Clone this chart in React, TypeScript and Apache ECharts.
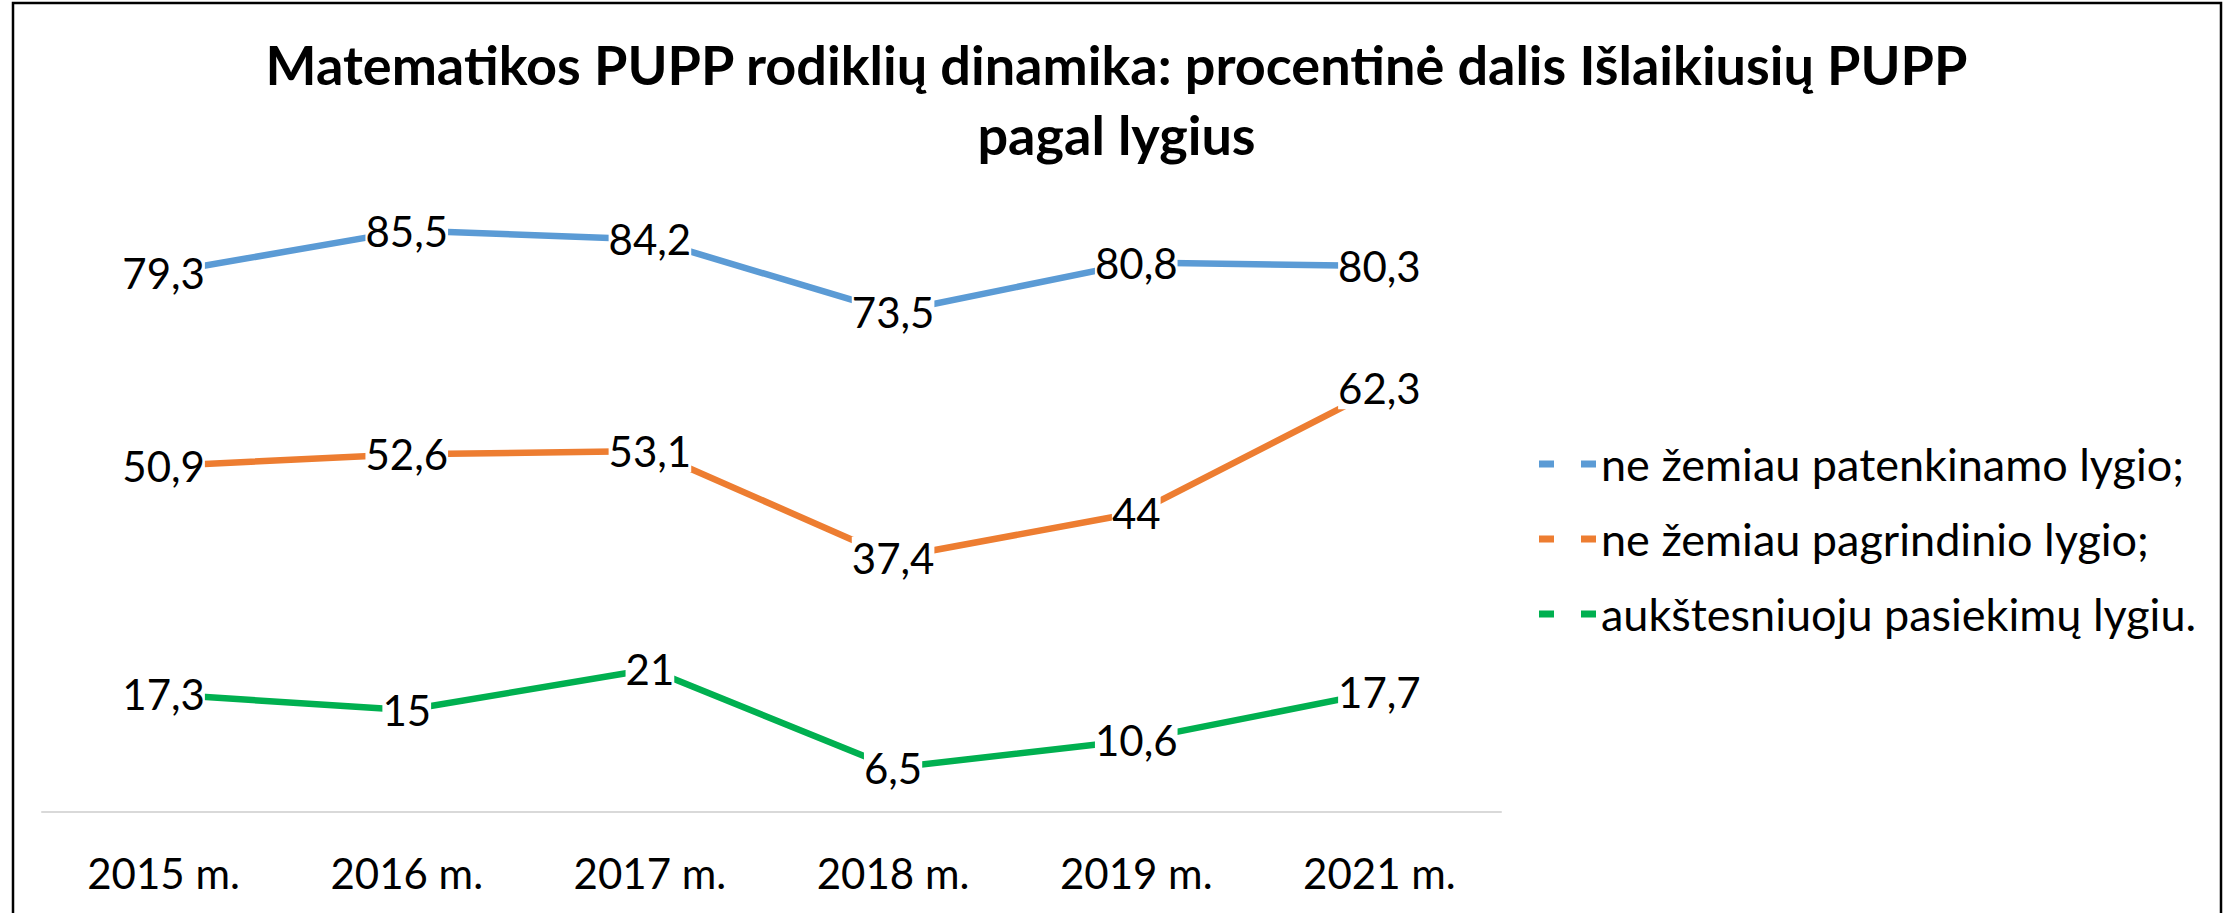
import React, { useEffect, useRef } from "react";
import * as echarts from "echarts";

const categories = ["2015 m.", "2016 m.", "2017 m.", "2018 m.", "2019 m.", "2021 m."];
const patenkinamo = [79.3, 85.5, 84.2, 73.5, 80.8, 80.3];
const pagrindinio = [50.9, 52.6, 53.1, 37.4, 44, 62.3];
const aukstesniuoju = [17.3, 15, 21, 6.5, 10.6, 17.7];
const seriesNames = [
  "ne žemiau patenkinamo lygio;",
  "ne žemiau pagrindinio lygio;",
  "aukštesniuoju pasiekimų lygiu.",
];
const colors = ["#5B9BD5", "#ED7D31", "#00B050"];
const titleText = "Matematikos PUPP rodiklių dinamika: procentinė dalis Išlaikiusių PUPP\npagal lygius";

const FONT = "Lato";

export default function App() {
  const ref = useRef<HTMLDivElement>(null);
  useEffect(() => {
    if (!ref.current) return;
    const chart = echarts.init(ref.current, undefined, { renderer: "svg" });
    const mkSeries = (name: string, data: number[], color: string) => ({
      name,
      type: "line",
      data,
      symbol: "circle",
      symbolSize: 2,
      lineStyle: { color, width: 6.5, cap: "round", join: "round" },
      itemStyle: { color },
      label: {
        show: true,
        position: "inside",
        formatter: (p: any) => String(p.value).replace(".", ","),
        color: "#000",
        fontFamily: FONT,
        fontSize: 42,
        backgroundColor: "#fff",
        padding: [0, 0],
      },
      emphasis: { disabled: true },
    });
    chart.setOption({
      animation: false,
      backgroundColor: "#fff",
      title: {
        text: titleText,
        left: "center",
        top: 24,
        textStyle: {
          fontFamily: FONT,
          fontWeight: "bold",
          fontSize: 54,
          lineHeight: 70,
          color: "#000",
        },
      },
      legend: {
        orient: "vertical",
        left: 1534,
        top: 433,
        itemWidth: 57,
        itemHeight: 7,
        itemGap: 23,
        icon: "path://M0,0h15v7h-15z M42,0h15v7h-15z",
        textStyle: { fontFamily: FONT, fontSize: 45, lineHeight: 52, color: "#000" },
        data: seriesNames,
      },
      grid: { left: 42, top: 132, width: 1459, height: 680, containLabel: false },
      xAxis: {
        type: "category",
        data: categories,
        boundaryGap: true,
        axisLine: { show: true, lineStyle: { color: "#d9d9d9", width: 2 } },
        axisTick: { show: false },
        axisLabel: { color: "#000", fontFamily: FONT, fontSize: 42, margin: 40 },
        splitLine: { show: false },
      },
      yAxis: {
        type: "value",
        min: 0,
        max: 100,
        show: false,
        splitLine: { show: false },
      },
      graphic: [
        {
          type: "rect",
          shape: { x: 13, y: 3, width: 2208, height: 960 },
          style: { fill: "none", stroke: "#000", lineWidth: 2.5 },
          silent: true,
        },
      ],
      series: [
        mkSeries(seriesNames[0], patenkinamo, colors[0]),
        mkSeries(seriesNames[1], pagrindinio, colors[1]),
        mkSeries(seriesNames[2], aukstesniuoju, colors[2]),
      ],
    });
    return () => chart.dispose();
  }, []);
  return (
    <div
      ref={ref}
      style={{ position: "fixed", left: 0, top: 0, width: 2233, height: 913, background: "#fff" }}
    />
  );
}
